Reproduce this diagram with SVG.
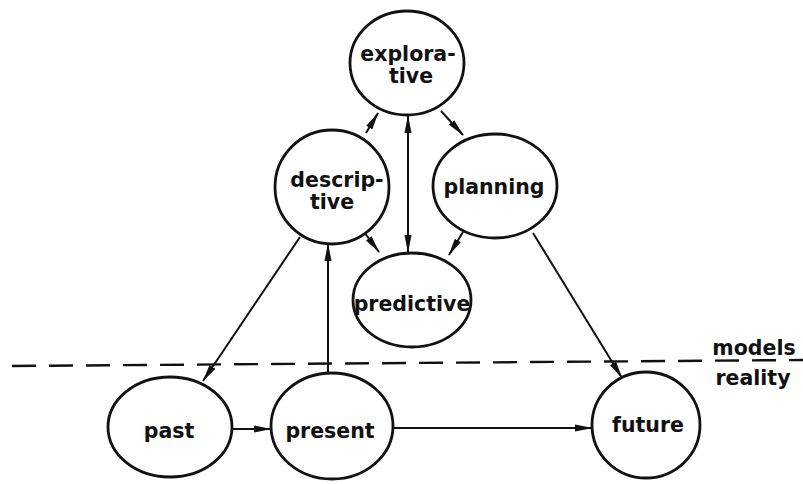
<svg xmlns="http://www.w3.org/2000/svg" width="803" height="484" viewBox="0 0 803 484">
<style>
.node ellipse{fill:#fff;stroke:#111;stroke-width:2.8}
text{font-family:"DejaVu Sans","Liberation Sans",sans-serif;font-weight:bold;font-size:20.5px;fill:#111;text-anchor:middle}
.conn line{stroke:#111;stroke-width:2;fill:none}
.dash{stroke:#111;stroke-width:2.4;stroke-dasharray:24 13}
</style>
<defs>
<marker id="ah" viewBox="0 0 18 9" refX="17" refY="4.5" markerWidth="18" markerHeight="9" markerUnits="userSpaceOnUse" orient="auto-start-reverse">
<path d="M0,1 L18,4.5 L0,8 Z" fill="#111"/>
</marker>
</defs>
<rect width="803" height="484" fill="#fff"/>
<line class="dash" x1="12" y1="366" x2="803" y2="360"/>
<text x="754" y="355">models</text>
<text x="753" y="385">reality</text>
<g class="conn">
<line x1="366" y1="133" x2="378" y2="113" marker-end="url(#ah)"/>
<line x1="441" y1="111" x2="463" y2="135" marker-end="url(#ah)"/>
<line x1="408" y1="116" x2="408" y2="252" marker-start="url(#ah)" marker-end="url(#ah)"/>
<line x1="364" y1="232" x2="379" y2="252" marker-end="url(#ah)"/>
<line x1="463" y1="232" x2="449" y2="255" marker-end="url(#ah)"/>
<line x1="300" y1="237" x2="203" y2="381" marker-end="url(#ah)"/>
<line x1="328" y1="373" x2="328" y2="244" marker-end="url(#ah)"/>
<line x1="533" y1="233" x2="622" y2="378" marker-end="url(#ah)"/>
<line x1="232" y1="429" x2="271" y2="429" marker-end="url(#ah)"/>
<line x1="393" y1="428" x2="592" y2="428" marker-end="url(#ah)"/>
</g>
<g id="explorative" class="node"><ellipse cx="407" cy="63" rx="57" ry="52"/><text x="408" y="61">explora-</text><text x="411" y="83">tive</text></g>
<g id="descriptive" class="node"><ellipse cx="332" cy="187" rx="57" ry="57"/><text x="337" y="187">descrip-</text><text x="332" y="209">tive</text></g>
<g id="planning" class="node"><ellipse cx="495" cy="186" rx="62" ry="52"/><text x="494" y="194">planning</text></g>
<g id="predictive" class="node"><ellipse cx="412" cy="300" rx="59" ry="47"/><text x="412" y="311">predictive</text></g>
<g id="past" class="node"><ellipse cx="170" cy="427" rx="62" ry="50"/><text x="169" y="438">past</text></g>
<g id="present" class="node"><ellipse cx="332" cy="426" rx="61" ry="53"/><text x="330" y="438">present</text></g>
<g id="future" class="node"><ellipse cx="646" cy="425" rx="54" ry="53"/><text x="648" y="432">future</text></g>
</svg>
